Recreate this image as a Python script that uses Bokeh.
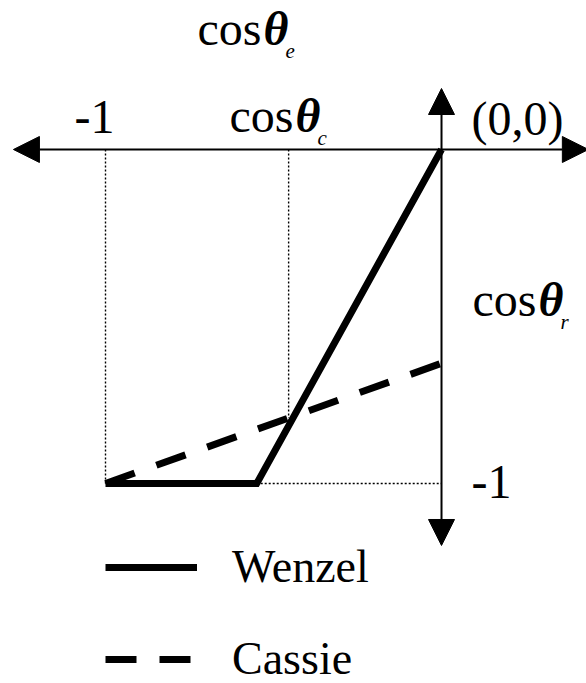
from bokeh.plotting import figure
from bokeh.models import Arrow, NormalHead, Label, Range1d, Legend, LegendItem
from bokeh.embed import file_html
from bokeh.resources import INLINE
import numpy as np

# Model curves: cos(theta_r) as a function of cos(theta_e)
wenzel_x = [-1.0, -0.55, 0.0]
wenzel_y = [-1.0, -1.0, 0.0]
cassie_x = [-1.0, 0.0]
cassie_y = [-1.0, -0.64]
cos_theta_c = -0.455
tick_value = -1.0

W, H = 586, 683
FONT = "Liberation Serif"
BIG = "48px"
LEG = "46px"
SUB = "21px"

p = figure(width=W, height=H,
           x_range=Range1d(-1.3125, 0.4315), y_range=Range1d(-1.5988, 0.4461),
           output_backend="svg", toolbar_location=None, min_border=0,
           x_axis_location=None, y_axis_location=None)
p.grid.visible = False
p.outline_line_color = None

# guide lines (dotted)
dot = dict(line_color="black", line_width=1.4, line_dash="2 2")
p.line([tick_value, tick_value], [0, tick_value], **dot)
c_end = float(np.interp(cos_theta_c, cassie_x, cassie_y))
p.line([cos_theta_c, cos_theta_c], [0, c_end], **dot)
p.line([wenzel_x[1], 0], [tick_value, tick_value], **dot)

# axes with arrow heads
def head():
    return NormalHead(size=26, fill_color="black", line_color="black", line_width=1)

p.add_layout(Arrow(start=head(), end=head(), x_start=-1.274, y_start=0,
                   x_end=0.437, y_end=0, line_width=2, line_color="black"))
p.add_layout(Arrow(start=head(), end=head(), x_start=0, y_start=0.1826,
                   x_end=0, y_end=-1.1856, line_width=2, line_color="black"))

# curves
r_w = p.line(wenzel_x, wenzel_y, line_color="black", line_width=7, line_join="miter")
r_c = p.line(cassie_x, cassie_y, line_color="black", line_width=7, line_dash="31 23")

legend = Legend(items=[LegendItem(label="Wenzel", renderers=[r_w]),
                       LegendItem(label="Cassie", renderers=[r_c])],
                location=(105, -2), orientation="vertical",
                glyph_width=92, glyph_height=50, label_height=50,
                label_standoff=35, spacing=39, padding=0, margin=0,
                border_line_color=None, background_fill_alpha=0,
                label_text_font=FONT, label_text_font_size=LEG,
                label_text_color="black")
p.add_layout(legend, "center")


def label(px, py, text, size=BIG, style="normal"):
    p.add_layout(Label(x=px, y=H - py, x_units="screen", y_units="screen",
                       text=text, text_font=FONT, text_font_size=size,
                       text_font_style=style, text_color="black",
                       text_baseline="alphabetic", text_align="left"))


def cos_theta(px, py, sub):
    label(px, py, "cos")
    label(px + 66, py, "θ", style="bold italic")
    label(px + 88, py + 22, sub, size=SUB, style="italic")


cos_theta(197, 28, "e")
cos_theta(229, 115, "c")
cos_theta(472, 299, "r")
label(74, 116, "-1")
label(471, 481, "-1")
label(471, 118, "(0,0)")

open("out.html", "w").write(file_html(p, INLINE))
